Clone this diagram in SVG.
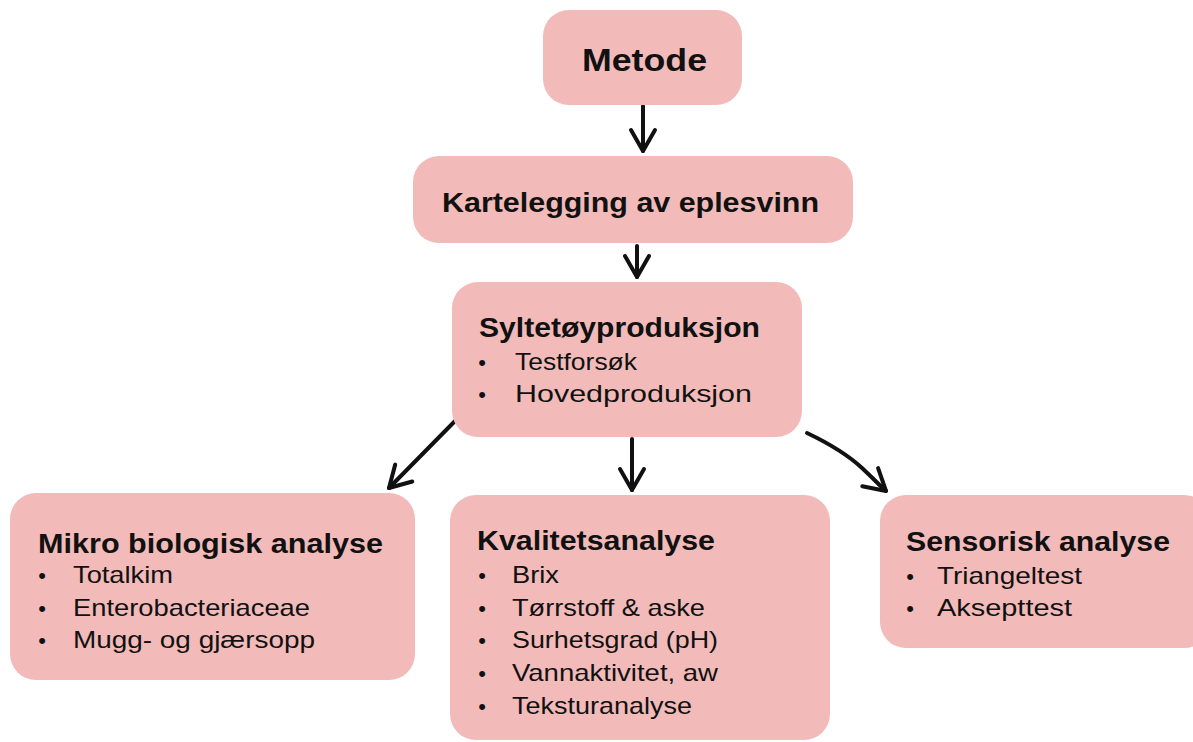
<svg xmlns="http://www.w3.org/2000/svg" width="1193" height="742" viewBox="0 0 1193 742">
<style>
.box{fill:#f2bbba;}
.t{font-family:"Liberation Sans",Arial,sans-serif;font-weight:bold;fill:#111;}
.b{font-family:"Liberation Sans",Arial,sans-serif;font-size:24px;fill:#111;}
.bul{font-family:"Liberation Sans",Arial,sans-serif;font-size:22px;fill:#111;text-anchor:middle;}
.c{fill:none;stroke:#111;stroke-width:4;stroke-linecap:round;stroke-linejoin:round;}
</style>
<defs>
<marker id="ah" markerUnits="userSpaceOnUse" viewBox="-24 -16 28 32" refX="0" refY="0" markerWidth="28" markerHeight="32" orient="auto">
<path d="M-21,-12 L0,0 L-21,12" fill="none" stroke="#111" stroke-width="4" stroke-linecap="round" stroke-linejoin="round"/>
</marker>
</defs>
<rect width="1193" height="742" fill="#ffffff"/>
<g id="connectors">
<path class="c" d="M643,106 L643,151" marker-end="url(#ah)"/>
<path class="c" d="M637,246 L637,277" marker-end="url(#ah)"/>
<path class="c" d="M632,439 L632,490" marker-end="url(#ah)"/>
<path class="c" d="M456,420 L389,488" marker-end="url(#ah)"/>
<path class="c" d="M807,433 C828,443 848,455 862,468 S878,484 886,491" marker-end="url(#ah)"/>
</g>
<g id="metode">
<rect class="box" x="543" y="10" width="199" height="95" rx="26"/>
<text class="t" x="582" y="71" font-size="32" textLength="125" lengthAdjust="spacingAndGlyphs">Metode</text>
</g>
<g id="kartelegging">
<rect class="box" x="413" y="156" width="440" height="87" rx="26"/>
<text class="t" x="442" y="212" font-size="28" textLength="377" lengthAdjust="spacingAndGlyphs">Kartelegging av eplesvinn</text>
</g>
<g id="syltetoy">
<rect class="box" x="452" y="282" width="350" height="155" rx="26"/>
<text class="t" x="479" y="337" font-size="28" textLength="281" lengthAdjust="spacingAndGlyphs">Syltetøyproduksjon</text>
<text class="bul" x="482" y="370">•</text>
<text class="b" x="515" y="370" textLength="122" lengthAdjust="spacingAndGlyphs">Testforsøk</text>
<text class="bul" x="482" y="402">•</text>
<text class="b" x="515" y="402" textLength="237" lengthAdjust="spacingAndGlyphs">Hovedproduksjon</text>
</g>
<g id="mikro">
<rect class="box" x="10" y="493" width="405" height="187" rx="26"/>
<text class="t" x="38" y="553" font-size="28" textLength="345" lengthAdjust="spacingAndGlyphs">Mikro biologisk analyse</text>
<text class="bul" x="42" y="583">•</text>
<text class="b" x="73" y="583" textLength="100" lengthAdjust="spacingAndGlyphs">Totalkim</text>
<text class="bul" x="42" y="616">•</text>
<text class="b" x="73" y="616" textLength="237" lengthAdjust="spacingAndGlyphs">Enterobacteriaceae</text>
<text class="bul" x="42" y="648">•</text>
<text class="b" x="73" y="648" textLength="242" lengthAdjust="spacingAndGlyphs">Mugg- og gjærsopp</text>
</g>
<g id="kvalitet">
<rect class="box" x="450" y="495" width="380" height="245" rx="26"/>
<text class="t" x="477" y="550" font-size="28" textLength="238" lengthAdjust="spacingAndGlyphs">Kvalitetsanalyse</text>
<text class="bul" x="482" y="583">•</text>
<text class="b" x="512" y="583" textLength="47" lengthAdjust="spacingAndGlyphs">Brix</text>
<text class="bul" x="482" y="616">•</text>
<text class="b" x="512" y="616" textLength="193" lengthAdjust="spacingAndGlyphs">Tørrstoff &amp; aske</text>
<text class="bul" x="482" y="648">•</text>
<text class="b" x="512" y="648" textLength="206" lengthAdjust="spacingAndGlyphs">Surhetsgrad (pH)</text>
<text class="bul" x="482" y="681">•</text>
<text class="b" x="512" y="681" textLength="206" lengthAdjust="spacingAndGlyphs">Vannaktivitet, aw</text>
<text class="bul" x="482" y="714">•</text>
<text class="b" x="512" y="714" textLength="180" lengthAdjust="spacingAndGlyphs">Teksturanalyse</text>
</g>
<g id="sensorisk">
<rect class="box" x="880" y="495" width="330" height="153" rx="26"/>
<text class="t" x="906" y="551" font-size="28" textLength="264" lengthAdjust="spacingAndGlyphs">Sensorisk analyse</text>
<text class="bul" x="910" y="584">•</text>
<text class="b" x="937" y="584" textLength="145" lengthAdjust="spacingAndGlyphs">Triangeltest</text>
<text class="bul" x="910" y="616">•</text>
<text class="b" x="937" y="616" textLength="135" lengthAdjust="spacingAndGlyphs">Aksepttest</text>
</g>
</svg>
